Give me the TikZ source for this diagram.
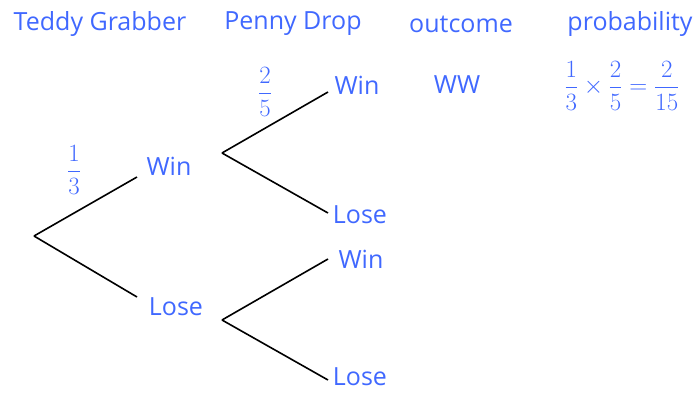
\documentclass[tikz,border=0pt]{standalone}
\usepackage{amsmath}
\usepackage{fontspec}
\setmainfont{Open Sans}
\usepackage{color}
\definecolor{myblue}{RGB}{64,104,255}
\usepackage{tikz}
\usetikzlibrary{calc,positioning}
\tikzstyle{word}=[text=myblue,font=\fontsize{25}{29}\selectfont,inner sep=0pt]
\tikzstyle{prob}=[text=myblue,font=\fontsize{24}{28}\selectfont,inner sep=0pt]
\tikzstyle{small}=[text=myblue,font=\fontsize{23}{27}\selectfont,inner sep=0pt]

\begin{document}
\begin{tikzpicture}[x=1pt,y=-1pt,line width=1.6pt]
\useasboundingbox (0,0) rectangle (699,394);
% headings
\draw (100,24) node [word] (h1) {Teddy Grabber};
\draw (293,24) node [word] (h2) {Penny Drop};
\draw (461,24) node [word] (h3) {outcome};
\draw (630,24) node [word] (h4) {probability};
% branch points
\coordinate (r) at (34,236);
\coordinate (a) at (137,177);
\coordinate (b) at (137,297);
\coordinate (a0) at (222,153);
\coordinate (b0) at (222,320);
\coordinate (a1) at (328,92);
\coordinate (a2) at (328,213);
\coordinate (b1) at (328,259);
\coordinate (b2) at (328,380);
% labels
\draw (169,166) node [word] (w) {Win};
\draw (176,307) node [word] (l) {Lose};
\draw (357,85) node [word] (ww) {Win};
\draw (360,215) node [word] (wl) {Lose};
\draw (361,259) node [word] (lw) {Win};
\draw (360,377) node [word] (ll) {Lose};
\draw (457,85) node [word] (o1) {WW};
\draw (74,170) node [prob] (p1) {$\dfrac{1}{3}$};
\draw (265,92) node [prob] (p2) {$\dfrac{2}{5}$};
\draw (622,86) node [small] (p3) {$\dfrac{1}{3}\times\dfrac{2}{5}=\dfrac{2}{15}$};
% branches
\draw (r) -- (a);
\draw (r) -- (b);
\draw (a0) -- (a1);
\draw (a0) -- (a2);
\draw (b0) -- (b1);
\draw (b0) -- (b2);
\end{tikzpicture}
\end{document}
